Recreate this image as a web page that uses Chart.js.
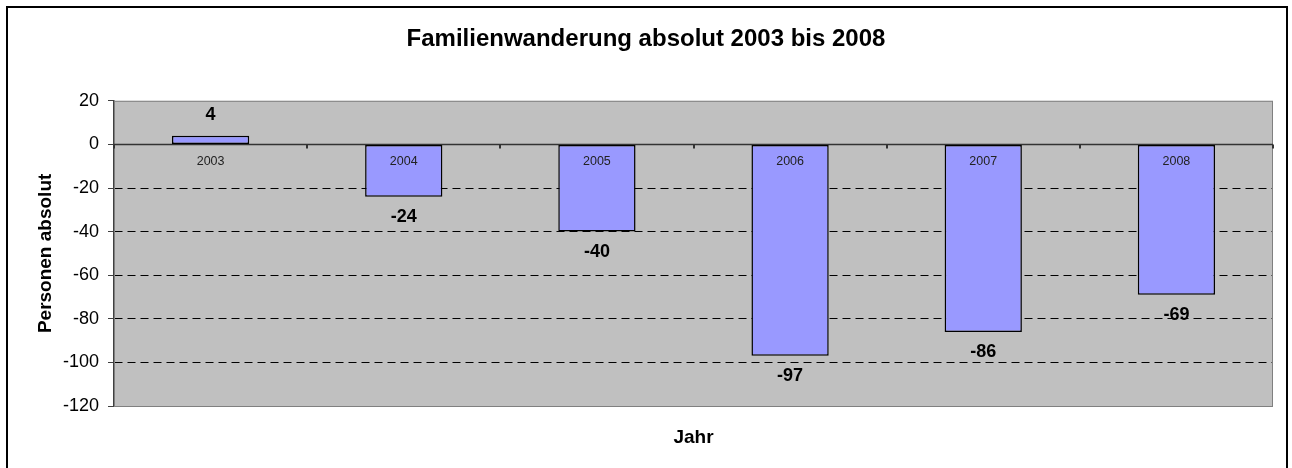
<!DOCTYPE html>
<html>
<head>
<meta charset="utf-8">
<script src="https://cdn.jsdelivr.net/npm/chart.js@4"></script>
<style>
  html, body { margin: 0; padding: 0; background: #fff; }
  #wrap { width: 1292px; height: 468px; }
</style>
</head>
<body>
<div id="wrap"><canvas id="myChart" width="1292" height="468"></canvas></div>
<script>
// data
let years = ['2003', '2004', '2005', '2006', '2007', '2008'];
let persons = [4, -24, -40, -97, -86, -69];
let yTicks = [20, 0, -20, -40, -60, -80, -100, -120];

let font = 'Arial, "Liberation Sans", sans-serif';

// frame, plot background, zero line, labels inside the plot
let excelLook = {
    id: 'excelLook',
    beforeDraw(chart) {
        let c = chart.ctx, a = chart.chartArea;
        c.save();
        c.fillStyle = '#C0C0C0';
        c.fillRect(a.left, a.top, a.right - a.left, a.bottom - a.top);
        c.restore();
    },
    beforeDatasetsDraw(chart) {
        let c = chart.ctx, a = chart.chartArea;
        let y = chart.scales.y, x = chart.scales.x;
        let zero = Math.round(y.getPixelForValue(0)) + 0.5;
        c.save();
        // plot border
        c.strokeStyle = '#808080';
        c.lineWidth = 1;
        c.strokeRect(a.left + 0.5, a.top + 0.5, a.right - a.left - 1, a.bottom - a.top);
        // zero axis
        c.strokeStyle = '#333';
        c.lineWidth = 1.5;
        c.beginPath();
        c.moveTo(a.left, zero);
        c.lineTo(a.right, zero);
        c.stroke();
        // small ticks between categories
        let step = x.getPixelForValue(1) - x.getPixelForValue(0);
        c.lineWidth = 2;
        for (let i = 0; i <= years.length; i++) {
            let px = Math.round(x.getPixelForValue(0) - step / 2 + i * step);
            c.beginPath();
            c.moveTo(px, zero);
            c.lineTo(px, zero + 4);
            c.stroke();
        }
        c.restore();
    },
    afterDatasetsDraw(chart) {
        let c = chart.ctx, a = chart.chartArea;
        let zero = chart.scales.y.getPixelForValue(0);
        let meta = chart.getDatasetMeta(0);
        c.save();
        c.textAlign = 'center';
        c.textBaseline = 'middle';
        meta.data.forEach((bar, i) => {
            let v = persons[i];
            c.fillStyle = '#222';
            c.font = '12.5px ' + font;
            c.fillText(years[i], bar.x, zero + 17);
            c.fillStyle = '#000';
            c.font = 'bold 18px ' + font;
            c.fillText(String(v), bar.x, v >= 0 ? bar.y - 21 : bar.y + 20);
        });
        // axis titles
        c.font = 'bold 19px ' + font;
        c.fillText('Jahr', (a.left + a.right) / 2, 438);
        c.translate(46, (a.top + a.bottom) / 2);
        c.rotate(-Math.PI / 2);
        c.fillText('Personen absolut', 0, 0);
        c.restore();
    },
    afterDraw(chart) {
        let c = chart.ctx;
        c.save();
        c.strokeStyle = '#000';
        c.lineWidth = 2;
        c.beginPath();
        c.moveTo(7, 470);
        c.lineTo(7, 7);
        c.lineTo(1287, 7);
        c.lineTo(1287, 470);
        c.stroke();
        c.restore();
    }
};

let ctx = document.getElementById('myChart');
let myChart = new Chart(ctx, {
    type: 'bar',
    data: {
        labels: years,
        datasets: [{
            label: 'Personen absolut',
            data: persons,
            backgroundColor: '#9999FF',
            borderColor: '#000',
            borderWidth: 1.5,
            borderSkipped: false,
            barPercentage: 0.4,
            categoryPercentage: 1
        }]
    },
    options: {
        responsive: false,
        animation: false,
        layout: { padding: { left: 0, right: 0, top: 0, bottom: 62 } },
        plugins: {
            legend: { display: false },
            tooltip: { enabled: false },
            title: {
                display: true,
                text: 'Familienwanderung absolut 2003 bis 2008',
                color: '#000',
                font: { family: font, size: 24, weight: 'bold' },
                padding: { top: 25, bottom: 47 }
            }
        },
        scales: {
            x: { display: false },
            y: {
                min: -120,
                max: 20,
                afterFit(scale) { scale.width = 114; },
                afterBuildTicks(scale) { scale.ticks = yTicks.map(v => ({ value: v })); },
                ticks: {
                    color: '#000',
                    padding: 9,
                    font: { family: font, size: 18 }
                },
                grid: {
                    color: c => (c.tick && (c.tick.value === 20 || c.tick.value === -120 || c.tick.value === 0)) ? 'rgba(0,0,0,0)' : '#000',
                    tickColor: '#404040',
                    tickLength: 6,
                    borderDash: [8, 5],
                    tickBorderDash: []
                },
                border: { display: true, color: '#404040', width: 1.5, dash: [8, 5] }
            },
            // empty right-hand strip so the title centres on the whole frame
            yRight: {
                position: 'right',
                min: -120,
                max: 20,
                afterFit(scale) { scale.width = 19; },
                ticks: { display: false },
                grid: { display: false, drawTicks: false },
                border: { display: false }
            }
        }
    },
    plugins: [excelLook]
});
</script>
</body>
</html>
